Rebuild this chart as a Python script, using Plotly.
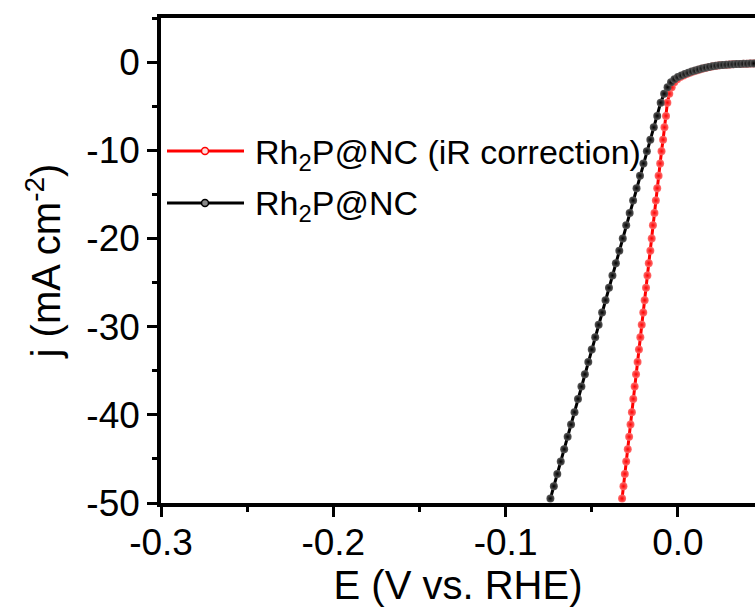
import plotly.graph_objects as go

# Linear sweep voltammetry of Rh2P@NC, 2 mV steps
e_raw = [-0.074, -0.072, -0.070, -0.068, -0.066, -0.064, -0.062, -0.060, -0.058, -0.056,
         -0.054, -0.052, -0.050, -0.048, -0.046, -0.044, -0.042, -0.040, -0.038, -0.036,
         -0.034, -0.032, -0.030, -0.028, -0.026, -0.024, -0.022, -0.020, -0.018, -0.016,
         -0.014, -0.012, -0.010, -0.008, -0.006, -0.004, -0.002, 0.000, 0.002, 0.004,
         0.006, 0.008, 0.010, 0.012, 0.014, 0.016, 0.018, 0.020, 0.022, 0.024,
         0.026, 0.028, 0.030, 0.032, 0.034, 0.036, 0.038, 0.040, 0.042, 0.044]

# Same sweep after iR compensation
e_ir = [-0.0324, -0.0316, -0.0308, -0.0300, -0.0291, -0.0283, -0.0275, -0.0267, -0.0259, -0.0251,
        -0.0243, -0.0234, -0.0226, -0.0218, -0.0210, -0.0201, -0.0193, -0.0185, -0.0177, -0.0169,
        -0.0160, -0.0152, -0.0145, -0.0136, -0.0128, -0.0120, -0.0112, -0.0103, -0.0095, -0.0086,
        -0.0078, -0.0069, -0.0061, -0.0050, -0.0036, -0.0021, -0.0004, 0.0014, 0.0033, 0.0051,
        0.0070, 0.0089, 0.0108, 0.0127, 0.0146, 0.0165, 0.0185, 0.0204, 0.0224, 0.0243,
        0.0263, 0.0283, 0.0302, 0.0322, 0.0342, 0.0362, 0.0382, 0.0402, 0.0421, 0.0441]

# Current density (mA cm^-2) at each step
j_density = [-49.5, -48.1, -46.7, -45.3, -43.9, -42.5, -41.1, -39.7, -38.2, -36.8,
             -35.4, -34.0, -32.6, -31.2, -29.8, -28.4, -27.0, -25.6, -24.2, -22.8,
             -21.4, -20.0, -18.5, -17.1, -15.7, -14.3, -12.9, -11.5, -10.1, -8.8,
             -7.4, -6.1, -4.6, -3.6, -2.85, -2.3, -1.95, -1.7, -1.52, -1.36,
             -1.22, -1.08, -0.96, -0.84, -0.72, -0.63, -0.55, -0.48, -0.42, -0.37,
             -0.33, -0.30, -0.27, -0.25, -0.23, -0.21, -0.19, -0.18, -0.16, -0.15]

series_names = ["Rh<sub>2</sub>P@NC (iR correction)", "Rh<sub>2</sub>P@NC"]
series_colors = ["#ff0000", "#000000"]
highlight_colors = ["#ff7070", "#5a5a5a"]

x_ticks = [-0.3, -0.2, -0.1, 0.0]
x_ticktext = ["-0.3", "-0.2", "-0.1", "0.0"]
y_ticks = [-50, -40, -30, -20, -10, 0]
y_ticktext = ["-50", "-40", "-30", "-20", "-10", "0"]

FONT = "Liberation Sans, Arial, sans-serif"
W, H = 755, 615
ML, MR, MT, MB = 161, 0, 18, 112

fig = go.Figure()
for xs, name, col, hi in [(e_ir, series_names[0], series_colors[0], highlight_colors[0]),
                          (e_raw, series_names[1], series_colors[1], highlight_colors[1])]:
    fig.add_trace(go.Scatter(
        x=xs, y=j_density, mode="lines+markers", name=name, showlegend=False,
        line=dict(color=col, width=3),
        marker=dict(size=8, color=hi, line=dict(width=0),
                    gradient=dict(type="radial", color=col)),
    ))

# Hand-placed legend (long sample lines with a centred marker)
pw = W - ML - MR
ph = H - MT - MB
def px_x(px):
    return (px - ML) / pw
def px_y(py):
    return (H - MB - py) / ph

legend_rows = [151, 203]
for row_y, name, col, hi in zip(legend_rows, series_names, series_colors, highlight_colors):
    fig.add_shape(type="line", xref="paper", yref="paper",
                  x0=px_x(167), x1=px_x(244), y0=px_y(row_y), y1=px_y(row_y),
                  line=dict(color=col, width=3))
    fig.add_shape(type="circle", xref="paper", yref="paper",
                  xsizemode="pixel", ysizemode="pixel",
                  xanchor=px_x(205), yanchor=px_y(row_y),
                  x0=-3.5, x1=3.5, y0=-3.5, y1=3.5,
                  fillcolor="#ffdddd" if col == "#ff0000" else "#888888",
                  line=dict(color=col, width=1.5))
    fig.add_annotation(xref="paper", yref="paper", x=px_x(253), y=px_y(row_y + 3),
                       xanchor="left", yanchor="middle", showarrow=False,
                       text=name, font=dict(family=FONT, size=34, color="black"))

axis_common = dict(
    showline=True, linecolor="black", linewidth=3.5,
    ticks="outside", ticklen=10, tickwidth=3, tickcolor="black",
    showgrid=False, zeroline=False,
    tickfont=dict(family=FONT, size=37, color="black"),
)

fig.update_xaxes(
    range=[-0.3, -0.3 + 0.1 * pw / 172.3], tickvals=x_ticks, ticktext=x_ticktext,
    mirror=True, ticklabelstandoff=-6,
    minor=dict(dtick=0.05, tick0=0, ticks="outside", ticklen=5, tickwidth=3, tickcolor="black"),
    title=dict(text="E (V vs. RHE)", font=dict(family=FONT, size=40, color="black"), standoff=2),
    **axis_common,
)
fig.update_yaxes(
    range=[-50, 5], tickvals=y_ticks, ticktext=y_ticktext,
    minor=dict(dtick=5, tick0=0, ticks="outside", ticklen=5, tickwidth=3, tickcolor="black"),
    title=dict(text="j (mA cm<sup>-2</sup>)", font=dict(family=FONT, size=40, color="black"), standoff=14),
    **axis_common,
)

fig.update_layout(
    width=W, height=H, autosize=False,
    margin=dict(l=ML, r=MR, t=MT, b=MB, pad=0),
    paper_bgcolor="white", plot_bgcolor="white",
)

fig.write_html("out.html")
